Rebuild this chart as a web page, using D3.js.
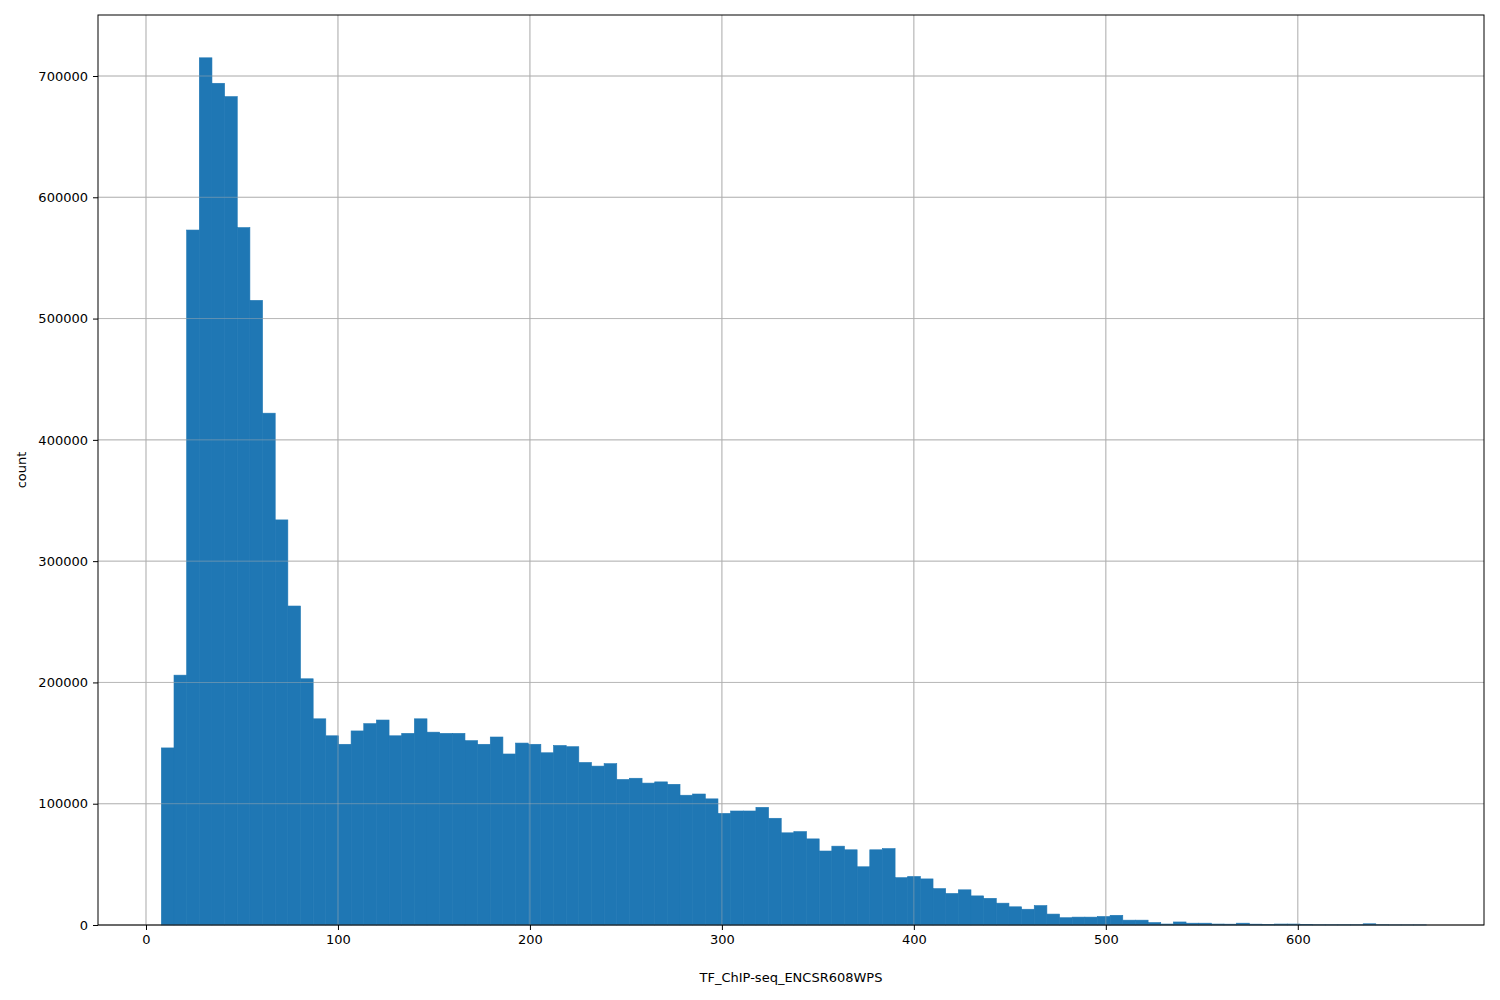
<!DOCTYPE html>
<html>
<head>
<meta charset="utf-8">
<script src="https://cdn.jsdelivr.net/npm/d3@7"></script>
<style>body{margin:0;background:#fff}text{font-family:"DejaVu Sans",sans-serif}</style>
</head>
<body>
<div id="graph"></div>
<script>
const binStart = 8
const binEnd = 667
const counts = [146000,206000,573000,715000,694000,683000,575000,515000,422000,334000,
263000,203000,170000,156000,149000,160000,166000,169000,156000,158000,
170000,159000,158000,158000,152000,149000,155000,141000,150000,149000,
142000,148000,147000,134000,131000,133000,120000,121000,117000,118000,
116000,107000,108000,104000,92000,94000,94000,97000,88000,76000,
77000,71000,61000,65000,62000,48000,62000,63000,39000,40000,
38000,30000,26000,29000,24000,22000,18000,15000,13000,16000,
9000,6000,6500,6500,7000,8000,4000,4000,2000,800,
2500,1500,1500,800,700,1500,700,300,800,800,
300,200,200,200,200,1000,200,100,100,100]
const xTicks = [0,100,200,300,400,500,600]
const yTicks = [0,100000,200000,300000,400000,500000,600000,700000]

const W = 1500, H = 1000
const m = {left: 98, right: 16, top: 15, bottom: 75}
const iw = W - m.left - m.right, ih = H - m.top - m.bottom
const bw = (binEnd - binStart) / counts.length

const svg = d3.select("#graph").append("svg").attr("width", W).attr("height", H)
const g = svg.append("g").attr("transform", `translate(${m.left},${m.top})`)

const x = d3.scaleLinear().domain([-25, 697]).range([0, iw])
const y = d3.scaleLinear().domain([0, 750300]).range([ih, 0])

// grid
g.selectAll(".gx").data(xTicks).join("line")
    .attr("x1", d => x(d)).attr("x2", d => x(d)).attr("y1", 0).attr("y2", ih)
    .attr("stroke", "#b0b0b0").attr("stroke-width", 0.8)
g.selectAll(".gy").data(yTicks).join("line")
    .attr("x1", 0).attr("x2", iw).attr("y1", d => y(d)).attr("y2", d => y(d))
    .attr("stroke", "#b0b0b0").attr("stroke-width", 0.8)

g.selectAll("rect.bar").data(counts).join("rect")
    .attr("x", (d, i) => x(binStart + i * bw))
    .attr("width", x(bw) - x(0))
    .attr("y", d => y(d)).attr("height", d => ih - y(d))
    .attr("fill", "#1f77b4").attr("stroke", "#1f77b4").attr("stroke-width", 0.6)

// grid over bars
g.selectAll(".gx2").data(xTicks).join("line")
    .attr("x1", d => x(d)).attr("x2", d => x(d)).attr("y1", 0).attr("y2", ih)
    .attr("stroke", "#b0b0b0").attr("stroke-width", 0.8).attr("opacity", 0.6)
g.selectAll(".gy2").data(yTicks).join("line")
    .attr("x1", 0).attr("x2", iw).attr("y1", d => y(d)).attr("y2", d => y(d))
    .attr("stroke", "#b0b0b0").attr("stroke-width", 0.8).attr("opacity", 0.6)

const xa = g.append("g").attr("transform", `translate(0,${ih})`)
    .call(d3.axisBottom(x).tickValues(xTicks).tickSize(5).tickPadding(5).tickFormat(d3.format("d")))
const ya = g.append("g")
    .call(d3.axisLeft(y).tickValues(yTicks).tickSize(5).tickPadding(5).tickFormat(d3.format("d")))
for (const a of [xa, ya]) {
    a.select(".domain").remove()
    a.selectAll("text").attr("font-size", 13).attr("fill", "#000")
    a.selectAll("line").attr("stroke", "#000")
}
g.append("rect").attr("width", iw).attr("height", ih).attr("fill", "none").attr("stroke", "#000")

svg.append("text").attr("x", m.left + iw / 2).attr("y", 982).attr("text-anchor", "middle")
    .attr("font-size", 13).text("TF_ChIP-seq_ENCSR608WPS")
svg.append("text").attr("transform", `translate(26,${m.top + ih / 2}) rotate(-90)`)
    .attr("text-anchor", "middle").attr("font-size", 13).text("count")
</script>
</body>
</html>
